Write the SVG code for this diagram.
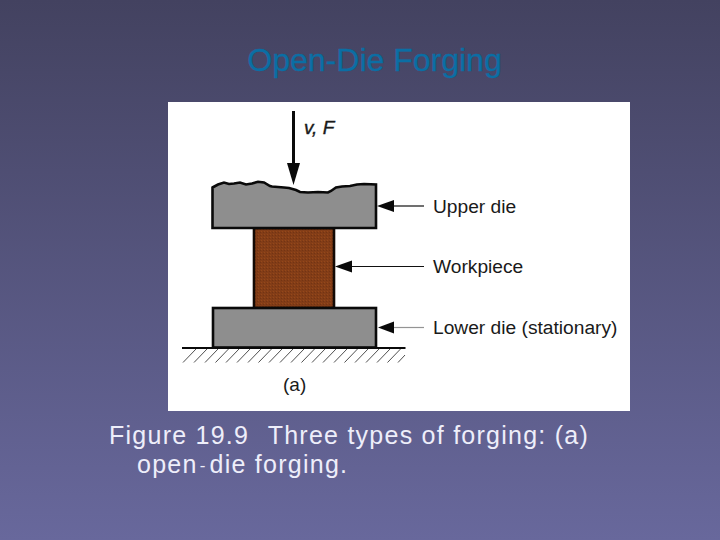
<svg xmlns="http://www.w3.org/2000/svg" width="720" height="540" viewBox="0 0 720 540">
<style>
.s{font-family:"Liberation Sans",Arial,sans-serif}
.lbl{font-size:19.200px;fill:#1a1a1a}
.cap{font-size:25px;fill:#eeeefa;letter-spacing:1.250px;white-space:pre}
.die{fill:#8e8e8e;stroke:#0a0a0a;stroke-width:2.600;stroke-linejoin:miter}
.lead{stroke:#111;stroke-width:1.200;fill:none}
.head{fill:#0a0a0a}
.hatch{stroke:#222;stroke-width:.8;fill:none}
</style>
<defs>
<linearGradient id="bg" x1="0" y1="0" x2="0" y2="1">
<stop offset="0" stop-color="#434260"/>
<stop offset="1" stop-color="#68689c"/>
</linearGradient>
<pattern id="tex" width="3" height="3" patternUnits="userSpaceOnUse">
<rect width="3" height="3" fill="#833d17"/>
<rect width="1" height="1" fill="#95481a"/>
<rect x="2" y="1" width="1" height="1" fill="#733413"/>
</pattern>
</defs>
<rect width="720" height="540" fill="url(#bg)"/>
<text class="s" x="374.500" y="71" font-size="32" fill="#0b6ea4" stroke="#0b6ea4" stroke-width=".3" text-anchor="middle">Open-Die Forging</text>
<rect x="168" y="102" width="462" height="309" fill="#fff"/>
<g id="hatching">
<path class="hatch" d="M183 362.500L196 349M194 362.500L207 349M205 362.500L218 349M215.500 362.500L228.500 349M226 362.500L239 349M237 362.500L250 349M248 362.500L261 349M258.500 362.500L271.500 349M269 362.500L282 349M280 362.500L293 349M291 362.500L304 349M301.500 362.500L314.500 349M312 362.500L325 349M323 362.500L336 349M334 362.500L347 349M344.500 362.500L357.500 349M355 362.500L368 349M366 362.500L379 349M377 362.500L390 349M387.500 362.500L400.500 349M398 362.500L405 355"/>
<line x1="182" y1="348" x2="405.500" y2="348" stroke="#0a0a0a" stroke-width="2"/>
</g>
<g id="workpiece"><rect x="254" y="228" width="80" height="80" fill="url(#tex)" stroke="#140a05" stroke-width="2.600"/></g>
<g id="upper-die"><path class="die" d="M212.500 187.500L218 184.500L224 182.500L229 184L234 183.500L240 182.500L246 184.500L252 183.500L258 181.800L264 182.500L270 186L272 186.500L284 187.500L289 188L296 190L300 192L308 192.500L318 192L328 192.500L331 191L336 187.500L342 186.500L350 186L357 184.500L364 184L376 184.500V228H212.500Z"/></g>
<g id="lower-die"><rect class="die" x="213" y="308" width="163" height="39.500"/></g>
<g id="connectors">
<path d="M293.500 111V166" stroke="#0a0a0a" stroke-width="3" fill="none"/>
<path class="head" d="M287 163L300 163L293.500 185Z"/>
<line class="lead" x1="424" y1="206" x2="392" y2="206"/>
<path class="head" d="M377 206L394 200V212Z"/>
<line class="lead" x1="424" y1="266.500" x2="350" y2="266.500"/>
<path class="head" d="M335 266.500L352 260.500V272.500Z"/>
<line class="lead" x1="424" y1="327.500" x2="392" y2="327.500" stroke-opacity=".45"/>
<path class="head" d="M378 327.500L394 321.500V333.500Z"/>
</g>
<text class="s" x="304" y="134" font-size="19" font-style="italic" fill="#1a1a1a" stroke="#1a1a1a" stroke-width=".4">v, F</text>
<text class="s lbl" x="433" y="212.500">Upper die</text>
<text class="s lbl" x="433" y="273">Workpiece</text>
<text class="s lbl" x="433" y="334">Lower die (stationary)</text>
<text class="s" x="283" y="391" font-size="19" fill="#1a1a1a">(a)</text>
<text class="s cap" x="109" y="444">Figure 19.9  <tspan dx="2.500">Three types of forging: (a)</tspan></text>
<text class="s cap" x="137" y="473">open<tspan dx="2" font-size="17" dy="-2">-</tspan><tspan dx="3" dy="2">die forging.</tspan></text>
</svg>
